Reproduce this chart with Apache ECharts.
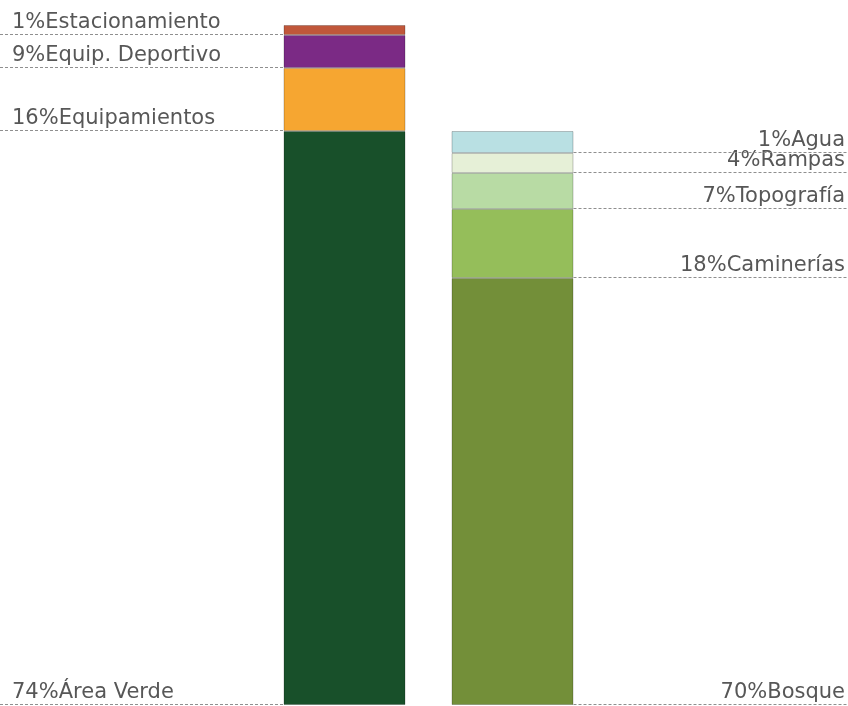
<!DOCTYPE html>
<html>
<head>
<meta charset="utf-8">
<script src="https://cdn.jsdelivr.net/npm/echarts@6/dist/echarts.min.js"></script>
<style>
  html, body { margin: 0; padding: 0; background: #fff; }
  #main { width: 848px; height: 706px; }
</style>
</head>
<body>
<div id="main"></div>
<script>
// barra izquierda: uso del suelo (de abajo hacia arriba)
var leftNames = ["Área Verde", "Equipamientos", "Equip. Deportivo", "Estacionamiento"];
var leftPct = [74, 16, 9, 1];
var leftValues = [574, 63, 33, 10];
var leftColors = ["#18502A", "#F6A631", "#7B2A85", "#C0573A"];

// barra derecha: desglose del área verde
var rightNames = ["Bosque", "Caminerías", "Topografía", "Rampas", "Agua"];
var rightPct = [70, 18, 7, 4, 1];
var rightValues = [427, 69, 36, 20, 22];
var rightColors = ["#738F39", "#95BE5A", "#B8DBA4", "#E6F0D7", "#B9E0E3"];

var categories = ["Uso", "Área Verde"];

var BAR_W = 122;
var FONT = "DejaVu Sans";

var series = [];
leftValues.forEach(function (v, i) {
  series.push({
    name: leftNames[i],
    type: "bar",
    stack: "total",
    barWidth: BAR_W,
    data: [v, "-"],
    itemStyle: { color: leftColors[i], borderColor: "rgba(0,0,0,0.22)", borderWidth: 1 }
  });
});
rightValues.forEach(function (v, i) {
  series.push({
    name: rightNames[i],
    type: "bar",
    stack: "total",
    barWidth: BAR_W,
    data: ["-", v],
    itemStyle: { color: rightColors[i], borderColor: "rgba(0,0,0,0.22)", borderWidth: 1 }
  });
});

var total = leftValues.reduce(function (a, b) { return a + b; }, 0);

var myChart = echarts.init(document.getElementById("main"));
myChart.setOption({
  animation: false,
  grid: { left: 260.5, right: 251.5, top: 25, bottom: 1 },
  xAxis: {
    type: "category",
    data: categories,
    show: false
  },
  yAxis: {
    type: "value",
    min: 0,
    max: total,
    show: false
  },
  series: series
});

// líneas punteadas y etiquetas, ubicadas con la escala del gráfico
var graphics = [];
function addLabels(values, names, pct, catIdx, side) {
  var acc = 0;
  var center = myChart.convertToPixel({ gridIndex: 0 }, [catIdx, 0])[0];
  values.forEach(function (v, i) {
    var y = Math.round(myChart.convertToPixel({ gridIndex: 0 }, [catIdx, acc])[1]) - 0.5;
    acc += v;
    var x0, x1, tx, align;
    if (side === "left") {
      x0 = 0; x1 = center - BAR_W / 2; tx = 12; align = "left";
    } else {
      x0 = center + BAR_W / 2; x1 = 848; tx = 845; align = "right";
    }
    graphics.push({
      type: "line",
      shape: { x1: x0, y1: y, x2: x1, y2: y },
      style: { stroke: "#8f8f8f", lineWidth: 1, lineDash: [3, 2] },
      silent: true
    });
    graphics.push({
      type: "text",
      x: tx,
      y: y - 1,
      style: {
        text: pct[i] + "%" + names[i],
        font: "21px '" + FONT + "'",
        fill: "#575757",
        align: align,
        verticalAlign: "bottom"
      },
      silent: true
    });
  });
}
addLabels(leftValues, leftNames, leftPct, 0, "left");
addLabels(rightValues, rightNames, rightPct, 1, "right");

myChart.setOption({ graphic: graphics });
</script>
</body>
</html>
